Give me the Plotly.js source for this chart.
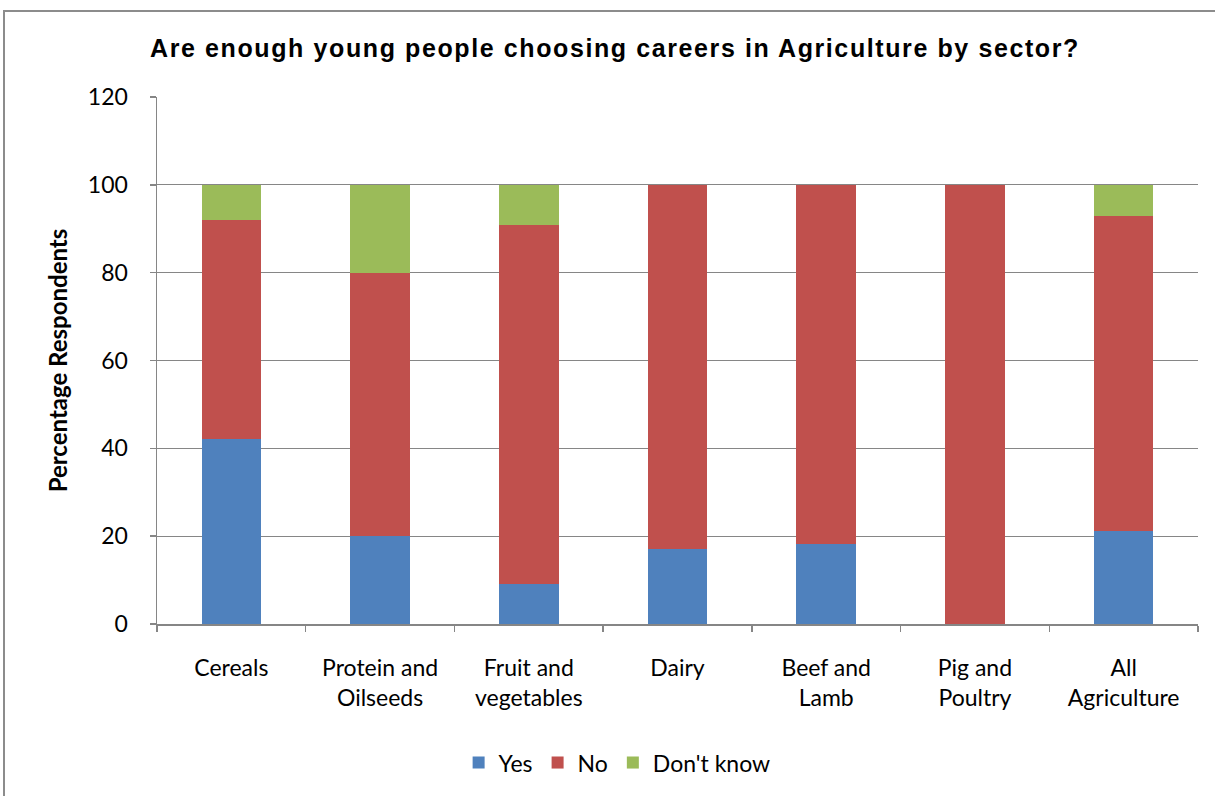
<!DOCTYPE html>
<html>
<head>
<meta charset="utf-8">
<script src="https://cdn.plot.ly/plotly-3.0.1.min.js"></script>
<style>
html,body{margin:0;padding:0;background:#fff;}
#wrap{position:relative;width:1215px;height:796px;}
#chart{position:absolute;left:0;top:0;width:1215px;height:796px;}
#border{position:absolute;left:3px;top:10px;width:1215px;height:790px;border:2px solid #8c8c8c;box-sizing:border-box;pointer-events:none;}
#chart .gtitle{letter-spacing:1.6px;}
</style>
</head>
<body>
<div id="wrap"><div id="chart"></div><div id="border"></div></div>
<script>
const categories = ["Cereals", "Protein and<br>Oilseeds", "Fruit and<br>vegetables", "Dairy", "Beef and<br>Lamb", "Pig and<br>Poultry", "All<br>Agriculture"];
const yesValues = [42.2, 20, 9.1, 17, 18.2, 0, 21.1];
const noValues = [49.9, 60, 81.8, 83, 81.8, 100, 71.9];
const dontKnowValues = [7.9, 20, 9.1, 0, 0, 0, 7.0];
const yTicks = [0, 20, 40, 60, 80, 100, 120];

const font = {family: "Lato, Carlito, Calibri, sans-serif", color: "#000"};
const traces = [
  {type: "bar", name: "Yes", x: categories, y: yesValues, marker: {color: "#4f81bd"}},
  {type: "bar", name: "No", x: categories, y: noValues, marker: {color: "#c0504d"}},
  {type: "bar", name: "Don't know", x: categories, y: dontKnowValues, marker: {color: "#9bbb59"}}
];
const layout = {
  width: 1215, height: 796,
  barmode: "stack",
  bargap: 0.6,
  paper_bgcolor: "#fff", plot_bgcolor: "#fff",
  margin: {l: 157, r: 17, t: 97, b: 170},
  title: {text: "<b>Are enough young people choosing careers in Agriculture by sector?</b>",
    font: {family: "Liberation Sans, Arial, sans-serif", color: "#000", size: 25},
    x: 615/1215, xanchor: "center", xref: "container", y: 1 - 48/796, yanchor: "middle"},
  xaxis: {
    type: "category",
    tickfont: Object.assign({}, font, {size: 23}),
    showline: true, linecolor: "#868686", linewidth: 1.5,
    ticks: "outside", tickson: "boundaries", ticklen: 6, tickcolor: "#868686", tickwidth: 1.5,
    ticklabelstandoff: 23,
    showgrid: false
  },
  yaxis: {
    range: [0, 120], tickvals: yTicks, ticktext: yTicks.map(String),
    tickfont: Object.assign({}, font, {size: 23}),
    showline: true, linecolor: "#868686", linewidth: 1.5,
    ticks: "outside", ticklen: 6, tickcolor: "#868686", tickwidth: 1.5,
    ticklabelstandoff: 17,
    showgrid: true, gridcolor: "#868686", gridwidth: 1.2,
    zeroline: false,
    title: {text: "<b>Percentage Respondents</b>", font: Object.assign({}, font, {size: 24}), standoff: 13}
  },
  legend: {orientation: "h", xref: "paper", x: 0.442, xanchor: "center", y: -0.263, yanchor: "middle",
    font: Object.assign({}, font, {size: 23}), traceorder: "normal"},
  showlegend: true
};
Plotly.newPlot("chart", traces, layout, {displayModeBar: false, staticPlot: true});
</script>
</body>
</html>
